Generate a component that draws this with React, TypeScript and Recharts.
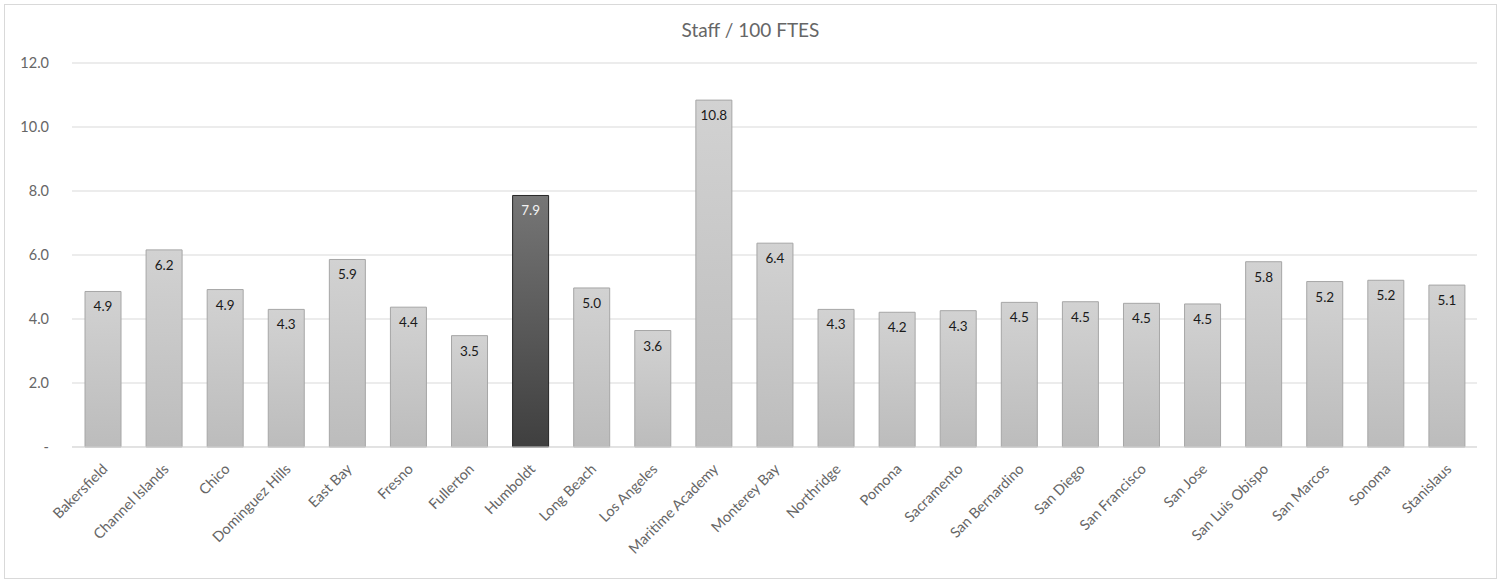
import * as React from "react";
import { Bar, BarChart, CartesianGrid, Cell, LabelList, XAxis, YAxis } from "recharts";

const campuses = [
  "Bakersfield",
  "Channel Islands",
  "Chico",
  "Dominguez Hills",
  "East Bay",
  "Fresno",
  "Fullerton",
  "Humboldt",
  "Long Beach",
  "Los Angeles",
  "Maritime Academy",
  "Monterey Bay",
  "Northridge",
  "Pomona",
  "Sacramento",
  "San Bernardino",
  "San Diego",
  "San Francisco",
  "San Jose",
  "San Luis Obispo",
  "San Marcos",
  "Sonoma",
  "Stanislaus",
];

const staffPer100 = [
  4.86, 6.16, 4.92, 4.3, 5.86, 4.37, 3.48, 7.86, 4.97, 3.64, 10.84, 6.37, 4.3,
  4.21, 4.26, 4.52, 4.54, 4.49, 4.47, 5.79, 5.17, 5.21, 5.06,
];

const yTicks = [0, 2, 4, 6, 8, 10, 12];

const highlight = "Humboldt";

const data = campuses.map((name, i) => ({ name, value: staffPer100[i] }));

const FONT = "Lato, 'Open Sans', sans-serif";
const TEXT = "#666666";

function fmtY(v: number) {
  return v === 0 ? "-" : v.toFixed(1);
}

function AngledTick(props: any) {
  const { x, y, payload } = props;
  return (
    <text
      transform={`translate(${x + 6},${y + 15}) rotate(-45)`}
      textAnchor="end"
      fill={TEXT}
      fontSize={14.5}
      fontFamily={FONT}
    >
      {payload.value}
    </text>
  );
}

function ValueLabel(props: any) {
  const { x, y, width, value, index } = props;
  const dark = campuses[index] === highlight;
  return (
    <text
      x={x + width / 2}
      y={y + 20}
      textAnchor="middle"
      fill={dark ? "#f2f2f2" : "#1a1a1a"}
      fontSize={13.5}
      fontFamily={FONT}
    >
      {Number(value).toFixed(1)}
    </text>
  );
}

export default function App() {
  return (
    <div style={{ position: "absolute", left: 0, top: 0, width: 1501, height: 583, background: "#fff" }}>
      <div
        style={{
          position: "absolute",
          left: 4,
          top: 4,
          width: 1491,
          height: 573,
          border: "1px solid #d9d9d9",
        }}
      />
      <div
        style={{
          position: "absolute",
          left: 0,
          top: 18,
          width: 1501,
          textAlign: "center",
          fontFamily: FONT,
          fontSize: 19,
          color: TEXT,
        }}
      >
        Staff / 100 FTES
      </div>
      <div style={{ position: "absolute", left: 0, top: 0 }}>
        <BarChart
          width={1501}
          height={583}
          data={data}
          margin={{ top: 63, right: 24, left: 12, bottom: 6 }}
          barSize={36}
        >
          <defs>
            <linearGradient id="gLight" x1="0" y1="0" x2="0" y2="1">
              <stop offset="0%" stopColor="#d2d2d2" />
              <stop offset="100%" stopColor="#bcbcbc" />
            </linearGradient>
            <linearGradient id="gDark" x1="0" y1="0" x2="0" y2="1">
              <stop offset="0%" stopColor="#767676" />
              <stop offset="100%" stopColor="#3f3f3f" />
            </linearGradient>
          </defs>
          <CartesianGrid vertical={false} stroke="#d9d9d9" />
          <XAxis
            dataKey="name"
            interval={0}
            height={130}
            tick={<AngledTick />}
            tickLine={false}
            axisLine={{ stroke: "#d9d9d9" }}
          />
          <YAxis
            width={60}
            domain={[0, 12]}
            ticks={yTicks}
            tickFormatter={fmtY}
            tick={{ fill: TEXT, fontSize: 14.5, fontFamily: FONT }}
            axisLine={false}
            tickLine={false}
            tickSize={0}
            tickMargin={23}
          />
          <Bar dataKey="value" isAnimationActive={false}>
            {data.map((d) => (
              <Cell
                key={d.name}
                fill={d.name === highlight ? "url(#gDark)" : "url(#gLight)"}
                stroke={d.name === highlight ? "#262626" : "#a6a6a6"}
                strokeWidth={1}
              />
            ))}
            <LabelList dataKey="value" content={<ValueLabel />} />
          </Bar>
        </BarChart>
      </div>
    </div>
  );
}
